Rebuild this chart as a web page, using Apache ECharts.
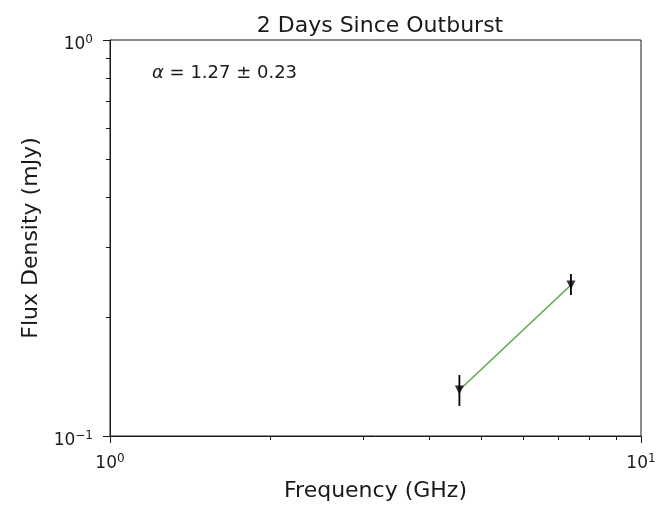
<!DOCTYPE html>
<html><head><meta charset="utf-8">
<script src="https://cdn.jsdelivr.net/npm/echarts@6/dist/echarts.min.js"></script>
<style>html,body{margin:0;padding:0;background:#fff}#c{width:663px;height:508px}</style>
</head><body><div id="c"></div>
<script>
const freqGHz = [4.55, 7.38];
const fluxMJy = [0.1307, 0.2406];
const fluxErrLo = [0.1191, 0.2270];
const fluxErrHi = [0.1426, 0.2566];
const fitFreq = [4.55, 7.38];
const fitFlux = [0.1307, 0.2406];
const xMajor = [1, 10];
const xMinor = [2, 3, 4, 5, 6, 7, 8, 9];
const yMajor = [0.1, 1];
const yMinor = [0.2, 0.3, 0.4, 0.5, 0.6, 0.7, 0.8, 0.9];
const titleText = '2 Days Since Outburst';
const xLabel = 'Frequency (GHz)';
const yLabel = 'Flux Density (mJy)';

const FONT = 'DejaVu Sans';
const ink = '#1a1a1a';
function supFmt(v) {
  const e = Math.round(Math.log10(v));
  return '{b|10}{s|' + (e < 0 ? '\u2212' + (-e) : e) + '}';
}
const rich = {
  b: {fontFamily: FONT, fontSize: 17, color: ink},
  s: {fontFamily: FONT, fontSize: 12, color: ink, padding: [0, 0, 9, 0]}
};
const chart = echarts.init(document.getElementById('c'), null, {renderer: 'canvas'});
const grid = {left: 110, top: 40, width: 531, height: 396, show: true, borderColor: ink, borderWidth: 1, backgroundColor: '#fff'};
chart.setOption({
  animation: false,
  title: {text: titleText, left: 375, textAlign: 'center', top: 10,
    textStyle: {fontFamily: FONT, fontSize: 22, fontWeight: 'normal', color: ink}},
  grid: grid,
  xAxis: [
    {type: 'log', logBase: 10, min: 1, max: 10, position: 'bottom',
      name: xLabel, nameLocation: 'middle', nameGap: 44,
      nameTextStyle: {fontFamily: FONT, fontSize: 22, color: ink},
      axisLine: {show: true, lineStyle: {color: ink, width: 1}},
      axisTick: {show: true, inside: false, length: 7, lineStyle: {color: ink}, customValues: xMajor},
      axisLabel: {margin: 17, formatter: supFmt, rich: rich, customValues: xMajor},
      splitLine: {show: false}},
    {type: 'log', logBase: 10, min: 1, max: 10, position: 'bottom', gridIndex: 0,
      axisLine: {show: false},
      axisTick: {show: true, inside: false, length: 4, lineStyle: {color: ink}, customValues: xMinor},
      axisLabel: {show: false}, splitLine: {show: false}}
  ],
  yAxis: [
    {type: 'log', logBase: 10, min: 0.1, max: 1, position: 'left',
      name: yLabel, nameLocation: 'middle', nameGap: 64, nameRotate: 90,
      nameTextStyle: {fontFamily: FONT, fontSize: 22, color: ink},
      axisLine: {show: true, lineStyle: {color: ink, width: 1}},
      axisTick: {show: true, inside: false, length: 7, lineStyle: {color: ink}, customValues: yMajor},
      axisLabel: {margin: 17, padding: [9, 0, 0, 0], formatter: supFmt, rich: rich, customValues: yMajor},
      splitLine: {show: false}},
    {type: 'log', logBase: 10, min: 0.1, max: 1, position: 'left', gridIndex: 0,
      axisLine: {show: false},
      axisTick: {show: true, inside: false, length: 4, lineStyle: {color: ink}, customValues: yMinor},
      axisLabel: {show: false}, splitLine: {show: false}}
  ],
  graphic: [{
    type: 'text', left: 152, top: 64,
    style: {text: '{a|\u03b1}{t| = 1.27 \u00b1 0.23}',
      rich: {a: {fontFamily: FONT, fontStyle: 'italic', fontSize: 18, fill: ink, color: ink},
             t: {fontFamily: FONT, fontSize: 18, fill: ink, color: ink}}}
  }],
  series: [
    {type: 'line', data: fitFreq.map((f, i) => [f, fitFlux[i]]), symbol: 'none',
      lineStyle: {color: '#5aa84a', width: 1.5}, z: 2},
    {type: 'custom', data: freqGHz.map((f, i) => [f, fluxErrLo[i], fluxErrHi[i]]),
      renderItem: function (params, api) {
        const p1 = api.coord([api.value(0), api.value(1)]);
        const p2 = api.coord([api.value(0), api.value(2)]);
        return {type: 'line', shape: {x1: p1[0], y1: p1[1], x2: p2[0], y2: p2[1]},
          style: {stroke: '#000', lineWidth: 1.8}};
      }, z: 3},
    {type: 'scatter', data: freqGHz.map((f, i) => [f, fluxMJy[i]]),
      symbol: 'triangle', symbolRotate: 180, symbolSize: [9, 9],
      itemStyle: {color: '#000'}, z: 4}
  ]
});
</script></body></html>
